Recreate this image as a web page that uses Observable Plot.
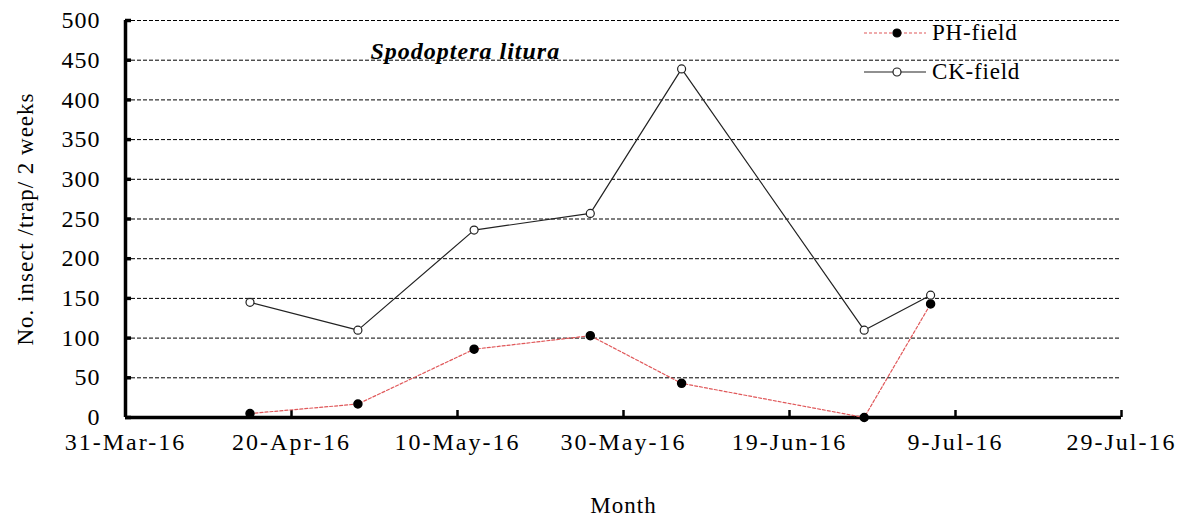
<!DOCTYPE html>
<html><head><meta charset="utf-8">
<script src="https://cdn.jsdelivr.net/npm/d3@7"></script>
<script src="https://cdn.jsdelivr.net/npm/@observablehq/plot@0.6"></script>
<style>
body{margin:0;background:#fff;}
#wrap{position:relative;width:1180px;height:518px;overflow:hidden;}
#wrap svg text{letter-spacing:1px;}
#wrap svg g[aria-label="x-axis tick label"] text{letter-spacing:2px;}
.lg{position:absolute;left:863px;font-family:"Liberation Serif",serif;font-size:23px;color:#000;display:flex;align-items:center;letter-spacing:0.8px;}
.lg svg{margin-right:5px;}
</style></head><body><div id="wrap"></div>
<script>
const sampleDates = ["2016-04-15","2016-04-28","2016-05-12","2016-05-26","2016-06-06","2016-06-28","2016-07-06"];
const phField = [5, 17, 86, 103, 43, 0, 143];
const ckField = [145, 110, 236, 257, 439, 110, 154];
const xTickLabels = ["2016-03-31","2016-04-20","2016-05-10","2016-05-30","2016-06-19","2016-07-09","2016-07-29"];
const yTicks = [0, 50, 100, 150, 200, 250, 300, 350, 400, 450, 500];
const seriesNames = ["PH-field", "CK-field"];
const titleText = "Spodoptera litura";
const yLabel = "No. insect /trap/ 2 weeks";
const xLabel = "Month";

const parse = d3.utcParse("%Y-%m-%d");
const xt = xTickLabels.map(parse);
const ph = sampleDates.map((d, i) => ({date: parse(d), value: phField[i]}));
const ck = sampleDates.map((d, i) => ({date: parse(d), value: ckField[i]}));
const fmt = d3.utcFormat("%-d-%b-%y");

const chart = Plot.plot({
  width: 1180, height: 518,
  marginLeft: 125, marginRight: 59, marginTop: 20, marginBottom: 101,
  style: {fontFamily: "'Liberation Serif', serif", fontSize: "23px", color: "#000", background: "#fff", overflow: "visible"},
  x: {type: "utc", domain: [xt[0], xt[xt.length - 1]]},
  y: {domain: [0, 500]},
  marks: [
    Plot.ruleY(yTicks.filter(d => d > 0), {stroke: "#000", strokeWidth: 1, strokeDasharray: "4,2"}),
    Plot.axisY({ticks: yTicks, tickSize: 0, tickPadding: 25, label: null, fontSize: 24}),
    Plot.axisY({ticks: yTicks, tickSize: -6, strokeWidth: 3.5, text: null, label: null}),
    Plot.axisX({ticks: xt, tickSize: 0, tickPadding: 15, tickFormat: fmt, label: null, fontSize: 24}),
    Plot.axisX({ticks: xt, tickSize: -7, strokeWidth: 2.5, text: null, label: null}),
    Plot.ruleX([xt[0]], {stroke: "#000", strokeWidth: 3.5}),
    Plot.ruleY([0], {stroke: "#000", strokeWidth: 3.5}),
    Plot.line(ph, {x: "date", y: "value", stroke: "#e0585a", strokeWidth: 1.2, strokeDasharray: "3,2"}),
    Plot.line(ck, {x: "date", y: "value", stroke: "#222", strokeWidth: 1.2}),
    Plot.dot(ph, {x: "date", y: "value", r: 4, fill: "#000", stroke: "#000"}),
    Plot.dot(ck, {x: "date", y: "value", r: 4, fill: "#fff", stroke: "#222", strokeWidth: 1.2}),
    Plot.text([titleText], {frameAnchor: "top-left", dx: 245, dy: 31, textAnchor: "start", lineAnchor: "middle", fontSize: 24, fontWeight: "bold", fontStyle: "italic", style: "letter-spacing:1.6px"}),
    Plot.text([yLabel], {frameAnchor: "left", dx: -100, rotate: -90, textAnchor: "middle", lineAnchor: "middle", fontSize: 23}),
    Plot.text([xLabel], {frameAnchor: "bottom", dy: 88, textAnchor: "middle", lineAnchor: "middle", fontSize: 23})
  ]
});
const wrap = document.getElementById("wrap");
wrap.appendChild(chart);

function legendItem(name, top, dotFill, stroke, dash) {
  const div = document.createElement("div");
  div.className = "lg";
  div.style.top = (top - 14) + "px";
  div.innerHTML = `<svg width="64" height="28"><line x1="1" x2="63" y1="14" y2="14" stroke="${stroke}" stroke-width="1.2" ${dash ? 'stroke-dasharray="3,2"' : ''}/><circle cx="34" cy="14" r="4" fill="${dotFill}" stroke="${dotFill === '#000' ? '#000' : '#222'}" stroke-width="1.2"/></svg><span>${name}</span>`;
  wrap.appendChild(div);
}
legendItem(seriesNames[0], 33, "#000", "#e0585a", true);
legendItem(seriesNames[1], 72, "#fff", "#222", false);
</script>
</body></html>
